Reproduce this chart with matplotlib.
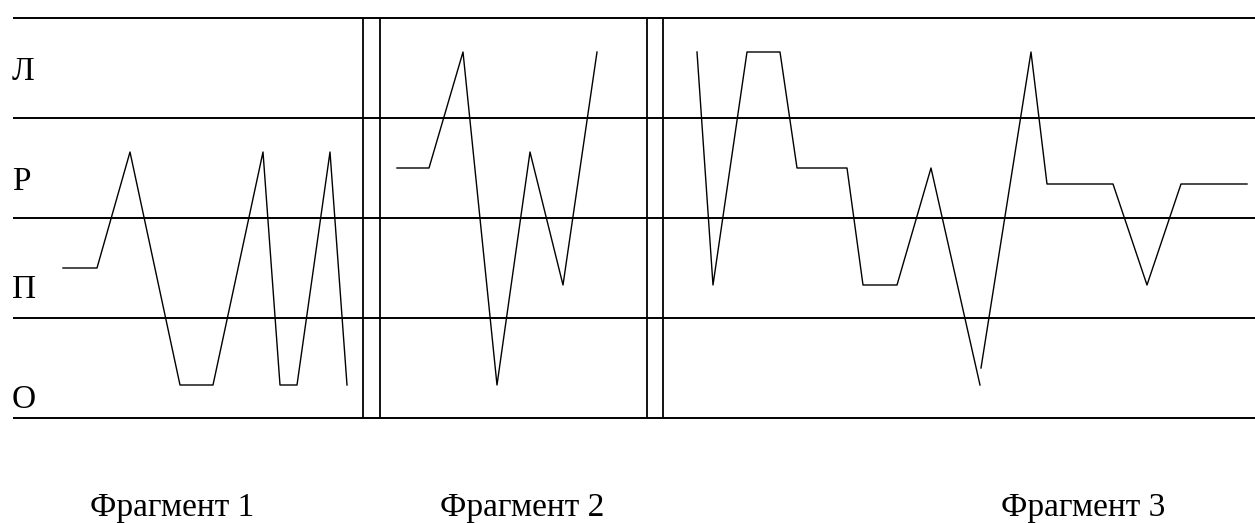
import matplotlib
matplotlib.use("Agg")
import matplotlib.pyplot as plt

# levels: О = 0..1, П = 1..2, Р = 2..3, Л = 3..4
level_names = ["О", "П", "Р", "Л"]
frag_names = ["Фрагмент 1", "Фрагмент 2", "Фрагмент 3"]

frag1_x = [63, 97, 130, 180, 213, 263, 280, 297, 330, 347]
frag1_y = [1.5, 1.5, 2.66, 0.33, 0.33, 2.66, 0.33, 0.33, 2.66, 0.33]

frag2_x = [397, 429, 463, 497, 530, 563, 597]
frag2_y = [2.5, 2.5, 3.66, 0.33, 2.66, 1.33, 3.66]

frag3a_x = [697, 713, 747, 780, 797, 847, 863, 897, 931, 980]
frag3a_y = [3.66, 1.33, 3.66, 3.66, 2.5, 2.5, 1.33, 1.33, 2.5, 0.33]
frag3b_x = [981, 1031, 1047, 1113, 1147, 1181, 1247]
frag3b_y = [0.5, 3.66, 2.34, 2.34, 1.33, 2.34, 2.34]

separators = [(363, 380), (647, 663)]
label_x = 12
label_base = [0.1, 1.2, 2.28, 3.38]
frag_label_x = [172, 522, 1083]

W, H = 1255, 523
fig = plt.figure(figsize=(W / 100, H / 100), dpi=100)
ax = fig.add_axes([0, (H - 418) / H, 1, 400 / H])
ax.set_xlim(0, W)
ax.set_ylim(0, 4)
ax.axis("off")

serif = ["Liberation Serif", "DejaVu Serif"]

# band borders
ax.hlines([0, 1, 2, 3, 4], 13, W, colors="black", lw=1.4, clip_on=False)
for a, b in separators:
    ax.vlines([a, b], 0, 4, colors="black", lw=1.3)

ax.plot(frag1_x, frag1_y, color="black", lw=1.0)
ax.plot(frag2_x, frag2_y, color="black", lw=1.0)
ax.plot(frag3a_x, frag3a_y, color="black", lw=1.0)
ax.plot(frag3b_x, frag3b_y, color="black", lw=1.0)

for name, yb in zip(level_names, label_base):
    ax.text(label_x, yb, name, fontsize=24, va="baseline", ha="left", family=serif)

for name, xc in zip(frag_names, frag_label_x):
    ax.text(xc, -0.98, name, fontsize=24, va="baseline", ha="center",
            family=serif, clip_on=False)

fig.savefig("out.png", dpi=100)
